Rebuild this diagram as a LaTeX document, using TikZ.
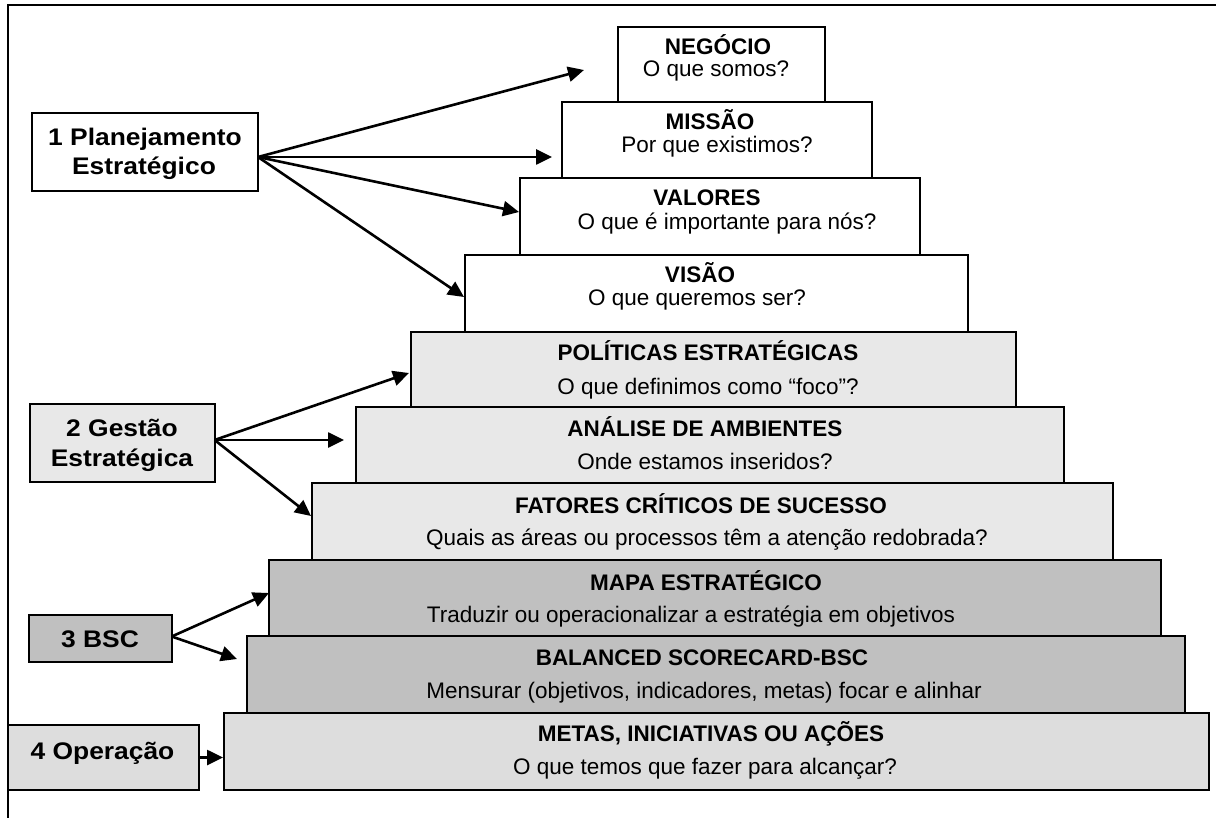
\documentclass[tikz,border=0pt]{standalone}
\usepackage{fontspec}
\setmainfont{Liberation Sans}
\usepackage{graphicx}
\usetikzlibrary{arrows.meta}
\definecolor{gA}{HTML}{E8E8E8}
\definecolor{gB}{HTML}{C0C0C0}
\definecolor{gC}{HTML}{DDDDDD}
\tikzset{
 box/.style={draw=black, line width=2pt, inner sep=0pt, outer sep=0pt},
 ptxt/.style={anchor=base, inner sep=0pt, font=\fontsize{22.5}{27}\selectfont},
 ttl/.style={anchor=base, inner sep=0pt, font=\fontsize{22.5}{27}\selectfont\bfseries},
 ltxt/.style={anchor=base, inner sep=0pt, font=\fontsize{24}{28}\selectfont\bfseries},
 arr/.style={line width=2.6pt, -{Triangle[length=16pt,width=15pt]}},
}
\newcommand{\pyrbox}[6]{\node[box,fill=#6,anchor=north west,minimum width={(#3-#1)*1pt},minimum height={(#4-#2)*1pt}] (#5) at (#1,#2) {};}
\newcommand{\wide}[1]{\scalebox{1.1}[1]{#1}}
\begin{document}
\begin{tikzpicture}[x=1pt,y=-1pt]
\useasboundingbox (0,0) rectangle (1216,818);
% frame
\draw[line width=2.5pt] (1216,5) -- (8,5) -- (8,818);
% pyramid
\pyrbox{618}{27}{825}{102}{neg}{white}
\pyrbox{562}{102}{872}{178}{mis}{white}
\pyrbox{520}{178}{920}{255}{val}{white}
\pyrbox{465}{255}{968}{332}{vis}{white}
\pyrbox{411}{332}{1016}{407}{pol}{gA}
\pyrbox{356}{407}{1064}{483}{ana}{gA}
\pyrbox{312}{483}{1113}{560}{fat}{gA}
\pyrbox{269}{560}{1161}{636}{map}{gB}
\pyrbox{247}{636}{1185}{713}{bal}{gB}
\pyrbox{224}{713}{1209}{790}{met}{gC}
% pyramid texts
\node[ttl] (negT) at (718,55) {NEGÓCIO};
\node[ptxt] (negS) at (716,77) {O que somos?};
\node[ttl] (misT) at (710,130) {MISSÃO};
\node[ptxt] (misS) at (717,153) {Por que existimos?};
\node[ttl] (valT) at (707,206) {VALORES};
\node[ptxt] (valS) at (727,230) {O que é importante para nós?};
\node[ttl] (visT) at (700,283) {VISÃO};
\node[ptxt] (visS) at (697,306) {O que queremos ser?};
\node[ttl] (polT) at (708,361) {POLÍTICAS ESTRATÉGICAS};
\node[ptxt] (polS) at (708,394) {O que definimos como “foco”?};
\node[ttl] (anaT) at (705,436) {ANÁLISE DE AMBIENTES};
\node[ptxt] (anaS) at (705,469) {Onde estamos inseridos?};
\node[ttl] (fatT) at (701,513) {FATORES CRÍTICOS DE SUCESSO};
\node[ptxt] (fatS) at (707,545) {Quais as áreas ou processos têm a atenção redobrada?};
\node[ttl] (mapT) at (706,590) {MAPA ESTRATÉGICO};
\node[ptxt] (mapS) at (691,622) {Traduzir ou operacionalizar a estratégia em objetivos};
\node[ttl] (balT) at (702,665) {BALANCED SCORECARD-BSC};
\node[ptxt] (balS) at (704,698) {Mensurar (objetivos, indicadores, metas) focar e alinhar};
\node[ttl] (metT) at (711,741) {METAS, INICIATIVAS OU AÇÕES};
\node[ptxt] (metS) at (705,774) {O que temos que fazer para alcançar?};
% left boxes
\pyrbox{31.6}{113}{258}{191}{b1}{white}
\pyrbox{29.6}{404}{214.6}{482}{b2}{gA}
\pyrbox{29.3}{615}{171.7}{662}{b3}{gB}
\pyrbox{8}{725}{199}{790}{b4}{gC}
\node[ltxt] (b1a) at (145,146) {\wide{1 Planejamento}};
\node[ltxt] (b1b) at (144,175) {\wide{Estratégico}};
\node[ltxt] (b2a) at (122,436) {\wide{2 Gestão}};
\node[ltxt] (b2b) at (122,466) {\wide{Estratégica}};
\node[ltxt] (b3a) at (100,647) {\wide{3 BSC}};
\node[ltxt] (b4a) at (102.5,759) {\wide{4 Operação}};
% arrow tips
\coordinate (e11) at (584,70);
\coordinate (e12) at (552,157);
\coordinate (e13) at (519,212);
\coordinate (e14) at (464,297);
\coordinate (e21) at (409,373);
\coordinate (e22) at (344,440);
\coordinate (e23) at (311,516);
\coordinate (e31) at (269,593);
\coordinate (e32) at (237,659);
\coordinate (e41) at (223,757.5);
% arrows
\draw[arr] ([yshift=-5pt]b1.east) -- (e11);
\draw[arr] ([yshift=-5pt]b1.east) -- (e12);
\draw[arr] ([yshift=-5pt]b1.east) -- (e13);
\draw[arr] ([yshift=-5pt]b1.east) -- (e14);
\draw[arr] ([yshift=3pt]b2.east) -- (e21);
\draw[arr] ([yshift=3pt]b2.east) -- (e22);
\draw[arr] ([yshift=3pt]b2.east) -- (e23);
\draw[arr] ([yshift=2pt]b3.east) -- (e31);
\draw[arr] ([yshift=2pt]b3.east) -- (e32);
\draw[arr] (b4.east) -- (e41);
\end{tikzpicture}
\end{document}
